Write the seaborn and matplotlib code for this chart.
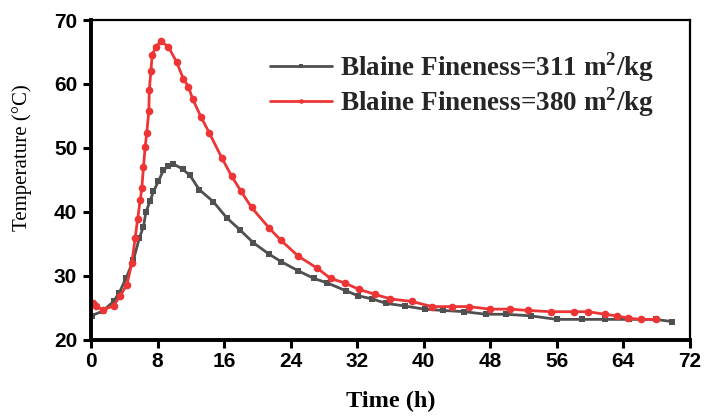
import matplotlib
matplotlib.use("Agg")
import matplotlib.pyplot as plt
import seaborn as sns
import pandas as pd

# ---- data ----
time_311 = [0.1, 1.4, 2.7, 3.4, 4.2, 5.1, 5.8, 6.3, 6.6, 7.1, 7.5, 8.1, 8.7, 9.3, 9.9,
            11.0, 11.9, 13.0, 14.7, 16.3, 17.9, 19.5, 21.4, 22.9, 24.9, 26.8, 28.4,
            30.6, 32.1, 33.8, 35.5, 37.7, 40.1, 42.3, 44.9, 47.5, 49.9, 52.9, 56.0,
            59.0, 61.8, 64.7, 67.9, 69.9]
temp_311 = [23.8, 24.5, 26.0, 27.4, 29.6, 32.5, 35.9, 37.7, 40.0, 41.7, 43.2, 44.8, 46.5,
            47.2, 47.5, 46.7, 45.7, 43.5, 41.6, 39.1, 37.2, 35.2, 33.4, 32.2, 30.8, 29.6,
            28.9, 27.7, 26.9, 26.4, 25.7, 25.3, 24.8, 24.6, 24.4, 24.0, 24.0, 23.75,
            23.2, 23.2, 23.2, 23.2, 23.2, 22.85]

time_380 = [0.2, 0.6, 1.4, 2.7, 3.5, 4.3, 4.9, 5.3, 5.6, 5.9, 6.1, 6.3, 6.5, 6.7, 6.95,
            7.0, 7.2, 7.35, 7.8, 8.4, 9.3, 10.3, 11.1, 11.7, 12.2, 13.2, 14.2, 15.7,
            16.9, 18.0, 19.3, 21.4, 22.8, 24.9, 27.2, 28.8, 30.5, 32.2, 34.2, 36.0,
            38.6, 41.0, 43.4, 45.4, 48.0, 50.4, 52.5, 55.3, 58.1, 59.8, 61.8, 63.2,
            64.6, 66.1, 67.9]
temp_380 = [25.8, 25.3, 24.7, 25.3, 26.9, 28.6, 32.0, 35.9, 38.9, 41.8, 43.7, 47.0, 50.1,
            52.4, 55.8, 59.0, 62.1, 64.6, 65.8, 66.7, 65.8, 63.4, 60.8, 59.6, 57.7, 54.9,
            52.4, 48.5, 45.6, 43.3, 40.7, 37.5, 35.6, 33.1, 31.2, 29.6, 28.9, 27.9, 27.1,
            26.4, 26.0, 25.2, 25.2, 25.2, 24.8, 24.8, 24.6, 24.4, 24.4, 24.4, 24.0, 23.75,
            23.4, 23.2, 23.2]

labels = ["Blaine Fineness=311 m$^{\\mathbf{2}}$/kg", "Blaine Fineness=380 m$^{\\mathbf{2}}$/kg"]
x_ticks = [0, 8, 16, 24, 32, 40, 48, 56, 64, 72]
y_ticks = [20, 30, 40, 50, 60, 70]

sns.set_theme(style="ticks")
plt.rcParams["font.family"] = ["Liberation Sans", "DejaVu Sans"]
plt.rcParams["mathtext.fontset"] = "custom"
plt.rcParams["mathtext.rm"] = "Liberation Serif"
plt.rcParams["mathtext.bf"] = "Liberation Serif:bold"

fig = plt.figure(figsize=(7.06, 4.17), dpi=100)
ax = fig.add_axes([0.129, 0.185, 0.848, 0.767])

df1 = pd.DataFrame({"t": time_311, "T": temp_311})
df2 = pd.DataFrame({"t": time_380, "T": temp_380})

sns.lineplot(data=df1, x="t", y="T", ax=ax, sort=False, color="#505050", lw=2,
             marker="s", markersize=4.5, markeredgewidth=0, label=labels[0])
sns.lineplot(data=df2, x="t", y="T", ax=ax, sort=False, color="#ee3535", lw=2,
             marker="o", markersize=5.5, markeredgewidth=0, label=labels[1])

ax.set_xlim(0, 72)
ax.set_ylim(20, 70)
ax.set_xticks(x_ticks)
ax.set_yticks(y_ticks)
for lab in ax.get_xticklabels() + ax.get_yticklabels():
    lab.set_fontweight("bold")
    lab.set_fontsize(15)
    lab.set_color("black")
ax.tick_params(axis="both", direction="out", length=6, width=2.2, color="black")
ax.tick_params(axis="y", pad=4)
ax.tick_params(axis="x", pad=3)
ax.tick_params(top=False, right=False)

for side in ["left", "bottom"]:
    ax.spines[side].set_linewidth(2.8)
    ax.spines[side].set_color("black")
for side in ["top", "right"]:
    ax.spines[side].set_visible(True)
    ax.spines[side].set_linewidth(1.6)
    ax.spines[side].set_color("black")

ax.set_xlabel("Time (h)", fontfamily="Liberation Serif", fontweight="bold", fontsize=17.5,
              color="black")
ax.xaxis.set_label_coords(0.5, -0.16)
ax.set_ylabel("Temperature (\u00b0C)", fontfamily="Liberation Serif", fontsize=15,
              color="black")
ax.yaxis.set_label_coords(-0.098, 0.569)

leg = ax.legend(loc="upper left", bbox_to_anchor=(0.28, 0.94), borderaxespad=0,
                frameon=False,
                prop={"family": "Liberation Serif", "weight": "bold", "size": 19.5},
                handlelength=2.3, handletextpad=0.3, labelspacing=0.05, markerscale=0.6)

fig.savefig("out.png", dpi=100)
